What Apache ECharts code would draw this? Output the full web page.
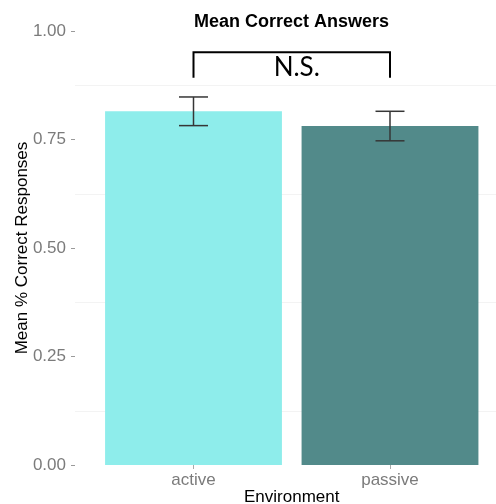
<!DOCTYPE html>
<html>
<head>
<meta charset="utf-8">
<script src="https://cdn.jsdelivr.net/npm/echarts@6/dist/echarts.min.js"></script>
<style>
  html, body { margin: 0; padding: 0; background: #ffffff; }
  #chart { width: 496px; height: 504px; }
</style>
</head>
<body>
<div id="chart"></div>
<script>
// Mean proportion of correct answers per environment, with standard errors
const categories = ['active', 'passive'];
const meanCorrect = [0.815, 0.781];
const stdError = [0.033, 0.034];
const barColors = ['#8eedeb', '#528a8a'];

// Significance bracket between the two environments
const bracketTop = 0.951;
const bracketFoot = 0.892;
const bracketLabel = 'N.S.';

// Y axis ticks
const yTicks = [0, 0.25, 0.5, 0.75, 1.0];

const tickGray = '#7b7b7b';
const sans = '"Liberation Sans", Arial, Helvetica, sans-serif';

const chart = echarts.init(document.getElementById('chart'), null, { renderer: 'canvas' });

const errorData = categories.map((c, i) => [i, meanCorrect[i] - stdError[i], meanCorrect[i] + stdError[i]]);

const option = {
  backgroundColor: '#ffffff',
  animation: false,
  title: {
    text: 'Mean Correct Answers',
    left: 189, top: 8,
    textStyle: { fontFamily: sans, fontSize: 18, fontWeight: 'bold', color: '#000' }
  },
  grid: [
    // panel background with gridlines and y axis
    { left: 75, right: -12, top: 31, bottom: 39, outerBoundsMode: 'none', containLabel: false },
    // bars
    { left: 95.25, right: 7.75, top: 31, bottom: 39, outerBoundsMode: 'none', containLabel: false }
  ],
  xAxis: [
    { gridIndex: 0, type: 'value', min: 0, max: 1, show: false },
    {
      gridIndex: 1, type: 'category', data: categories,
      axisLine: { show: false },
      axisTick: { show: true, alignWithLabel: true, length: 4, lineStyle: { color: '#aaaaaa' } },
      axisLabel: { color: tickGray, fontFamily: sans, fontSize: 17, margin: 7 },
      name: 'Environment', nameLocation: 'middle', nameGap: 24, nameMoveOverlap: false,
      nameTextStyle: { fontFamily: sans, fontSize: 17, color: '#000' }
    }
  ],
  yAxis: [
    {
      gridIndex: 0, type: 'value', min: yTicks[0], max: yTicks[yTicks.length - 1], interval: 0.25,
      axisLine: { show: false },
      axisTick: { show: true, length: 4, lineStyle: { color: '#9a9a9a' } },
      axisLabel: {
        color: tickGray, fontFamily: sans, fontSize: 17, margin: 9,
        formatter: v => v.toFixed(2)
      },
      splitLine: { show: false },
      minorTick: { show: false, splitNumber: 2 },
      minorSplitLine: { show: true, lineStyle: { color: '#f3f3f3', width: 1 } },
      name: 'Mean % Correct Responses', nameLocation: 'middle', nameGap: 44, nameMoveOverlap: false,
      nameTextStyle: { fontFamily: sans, fontSize: 17, color: '#000' }
    },
    { gridIndex: 1, type: 'value', min: 0, max: 1, show: false }
  ],
  series: [
    {
      type: 'bar', xAxisIndex: 1, yAxisIndex: 1, barWidth: '90%',
      data: meanCorrect.map((v, i) => ({ value: v, itemStyle: { color: barColors[i] } })),
      z: 2
    },
    {
      // error bars
      type: 'custom', xAxisIndex: 1, yAxisIndex: 1, z: 3,
      data: errorData,
      renderItem: (params, api) => {
        const lo = api.coord([api.value(0), api.value(1)]);
        const hi = api.coord([api.value(0), api.value(2)]);
        const half = 14.5;
        const style = { stroke: '#363636', lineWidth: 1.5 };
        return {
          type: 'group',
          children: [
            { type: 'line', shape: { x1: hi[0], y1: hi[1], x2: lo[0], y2: lo[1] }, style },
            { type: 'line', shape: { x1: hi[0] - half, y1: hi[1], x2: hi[0] + half, y2: hi[1] }, style },
            { type: 'line', shape: { x1: lo[0] - half, y1: lo[1], x2: lo[0] + half, y2: lo[1] }, style }
          ]
        };
      }
    },
    {
      // significance bracket
      type: 'custom', xAxisIndex: 1, yAxisIndex: 1, z: 4,
      data: [[0, 1, bracketTop, bracketFoot]],
      renderItem: (params, api) => {
        const a = api.coord([api.value(0), api.value(2)]);
        const b = api.coord([api.value(1), api.value(2)]);
        const aFoot = api.coord([api.value(0), api.value(3)]);
        const bFoot = api.coord([api.value(1), api.value(3)]);
        return {
          type: 'group',
          children: [
            {
              type: 'polyline',
              shape: { points: [aFoot, a, b, bFoot] },
              style: { stroke: '#000', lineWidth: 2, fill: null }
            },
            {
              type: 'text',
              x: (a[0] + b[0]) / 2 + 5, y: a[1] + 15,
              style: {
                text: bracketLabel, fontFamily: 'Lato, "Open Sans", sans-serif', fontSize: 26,
                fill: '#000', align: 'center', verticalAlign: 'middle'
              }
            }
          ]
        };
      }
    }
  ]
};

chart.setOption(option);
</script>
</body>
</html>
